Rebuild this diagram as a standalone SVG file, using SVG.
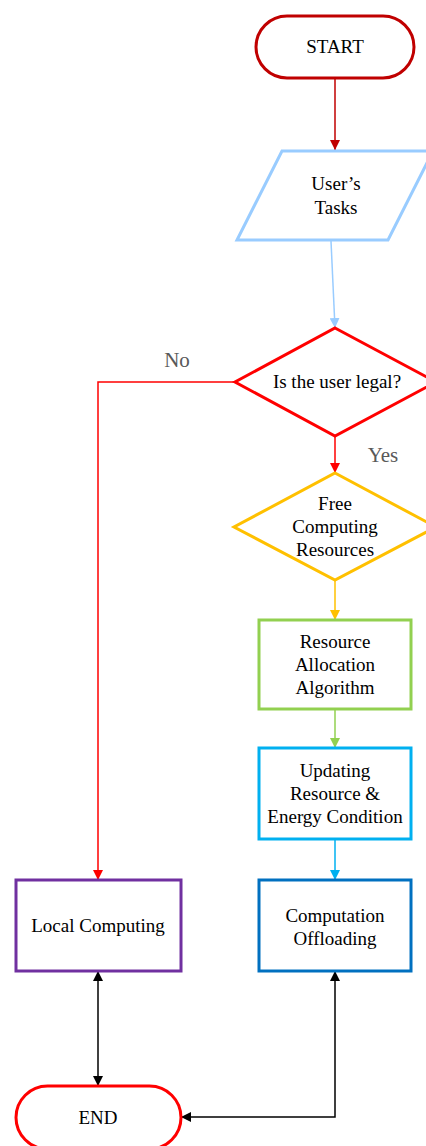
<svg xmlns="http://www.w3.org/2000/svg" width="426" height="1146" viewBox="0 0 426 1146">
<style>
text{font-family:"Liberation Serif","Times New Roman",serif;font-size:19px;fill:#000;text-anchor:middle}
.lbl{font-size:21px;fill:#595959}
.node{fill:#fff;stroke-width:3}
.c{fill:none;stroke-width:1.5}
</style>
<defs>
<marker id="aDR" markerUnits="userSpaceOnUse" markerWidth="10" markerHeight="10" refX="10" refY="5" orient="auto-start-reverse"><path d="M0,0 L10,5 L0,10 z" fill="#c00000"/></marker>
<marker id="aLB" markerUnits="userSpaceOnUse" markerWidth="10" markerHeight="10" refX="10" refY="5" orient="auto-start-reverse"><path d="M0,0 L10,5 L0,10 z" fill="#99ccff"/></marker>
<marker id="aR" markerUnits="userSpaceOnUse" markerWidth="10" markerHeight="10" refX="10" refY="5" orient="auto-start-reverse"><path d="M0,0 L10,5 L0,10 z" fill="#ff0000"/></marker>
<marker id="aO" markerUnits="userSpaceOnUse" markerWidth="10" markerHeight="10" refX="10" refY="5" orient="auto-start-reverse"><path d="M0,0 L10,5 L0,10 z" fill="#ffc000"/></marker>
<marker id="aG" markerUnits="userSpaceOnUse" markerWidth="10" markerHeight="10" refX="10" refY="5" orient="auto-start-reverse"><path d="M0,0 L10,5 L0,10 z" fill="#92d050"/></marker>
<marker id="aC" markerUnits="userSpaceOnUse" markerWidth="10" markerHeight="10" refX="10" refY="5" orient="auto-start-reverse"><path d="M0,0 L10,5 L0,10 z" fill="#00b0f0"/></marker>
<marker id="aK" markerUnits="userSpaceOnUse" markerWidth="10" markerHeight="10" refX="10" refY="5" orient="auto-start-reverse"><path d="M0,0 L10,5 L0,10 z" fill="#000"/></marker>
</defs>
<rect width="426" height="1146" fill="#fff"/>
<g id="connectors">
<line class="c" x1="335" y1="79" x2="335" y2="150" stroke="#c00000" marker-end="url(#aDR)"/>
<line class="c" x1="331" y1="241" x2="335" y2="328" stroke="#99ccff" marker-end="url(#aLB)"/>
<polyline class="c" points="235,382 98,382 98,880" stroke="#ff0000" marker-end="url(#aR)"/>
<line class="c" x1="335" y1="436" x2="335" y2="473" stroke="#ff0000" marker-end="url(#aR)"/>
<line class="c" x1="335" y1="580" x2="335" y2="620" stroke="#ffc000" marker-end="url(#aO)"/>
<line class="c" x1="335" y1="709" x2="335" y2="748" stroke="#92d050" marker-end="url(#aG)"/>
<line class="c" x1="335" y1="839" x2="335" y2="880" stroke="#00b0f0" marker-end="url(#aC)"/>
<line class="c" x1="98" y1="971" x2="98" y2="1086" stroke="#000" marker-start="url(#aK)" marker-end="url(#aK)"/>
<polyline class="c" points="335,971 335,1117 181,1117" stroke="#000" marker-start="url(#aK)" marker-end="url(#aK)"/>
<text class="lbl" x="177" y="367">No</text>
<text class="lbl" x="383" y="462">Yes</text>
</g>
<g id="start">
<rect class="node" x="256" y="16" width="158" height="62" rx="31" stroke="#c00000"/>
<text x="335" y="53">START</text>
</g>
<g id="tasks">
<polygon class="node" points="282,151 433,151 388,240 237,240" stroke="#99ccff"/>
<text x="336" y="190">User’s</text>
<text x="336" y="214">Tasks</text>
</g>
<g id="legal">
<polygon class="node" points="335,328 436,382 335,436 235,382" stroke="#ff0000"/>
<text x="337" y="388">Is the user legal?</text>
</g>
<g id="free">
<polygon class="node" points="335,473 436,527 335,580 234,527" stroke="#ffc000"/>
<text x="335" y="510">Free</text>
<text x="335" y="533">Computing</text>
<text x="335" y="556">Resources</text>
</g>
<g id="alloc">
<rect class="node" x="259" y="620" width="152" height="89" stroke="#92d050"/>
<text x="335" y="648">Resource</text>
<text x="335" y="671">Allocation</text>
<text x="335" y="694">Algorithm</text>
</g>
<g id="update">
<rect class="node" x="259" y="748" width="152" height="91" stroke="#00b0f0"/>
<text x="335" y="777">Updating</text>
<text x="335" y="800">Resource &amp;</text>
<text x="335" y="823">Energy Condition</text>
</g>
<g id="offload">
<rect class="node" x="259" y="880" width="152" height="91" stroke="#0070c0"/>
<text x="335" y="922">Computation</text>
<text x="335" y="945">Offloading</text>
</g>
<g id="local">
<rect class="node" x="16" y="880" width="165" height="91" stroke="#7030a0"/>
<text x="98" y="932">Local Computing</text>
</g>
<g id="end">
<rect class="node" x="16" y="1086" width="165" height="63" rx="31.5" stroke="#ff0000"/>
<text x="98" y="1124">END</text>
</g>
</svg>
